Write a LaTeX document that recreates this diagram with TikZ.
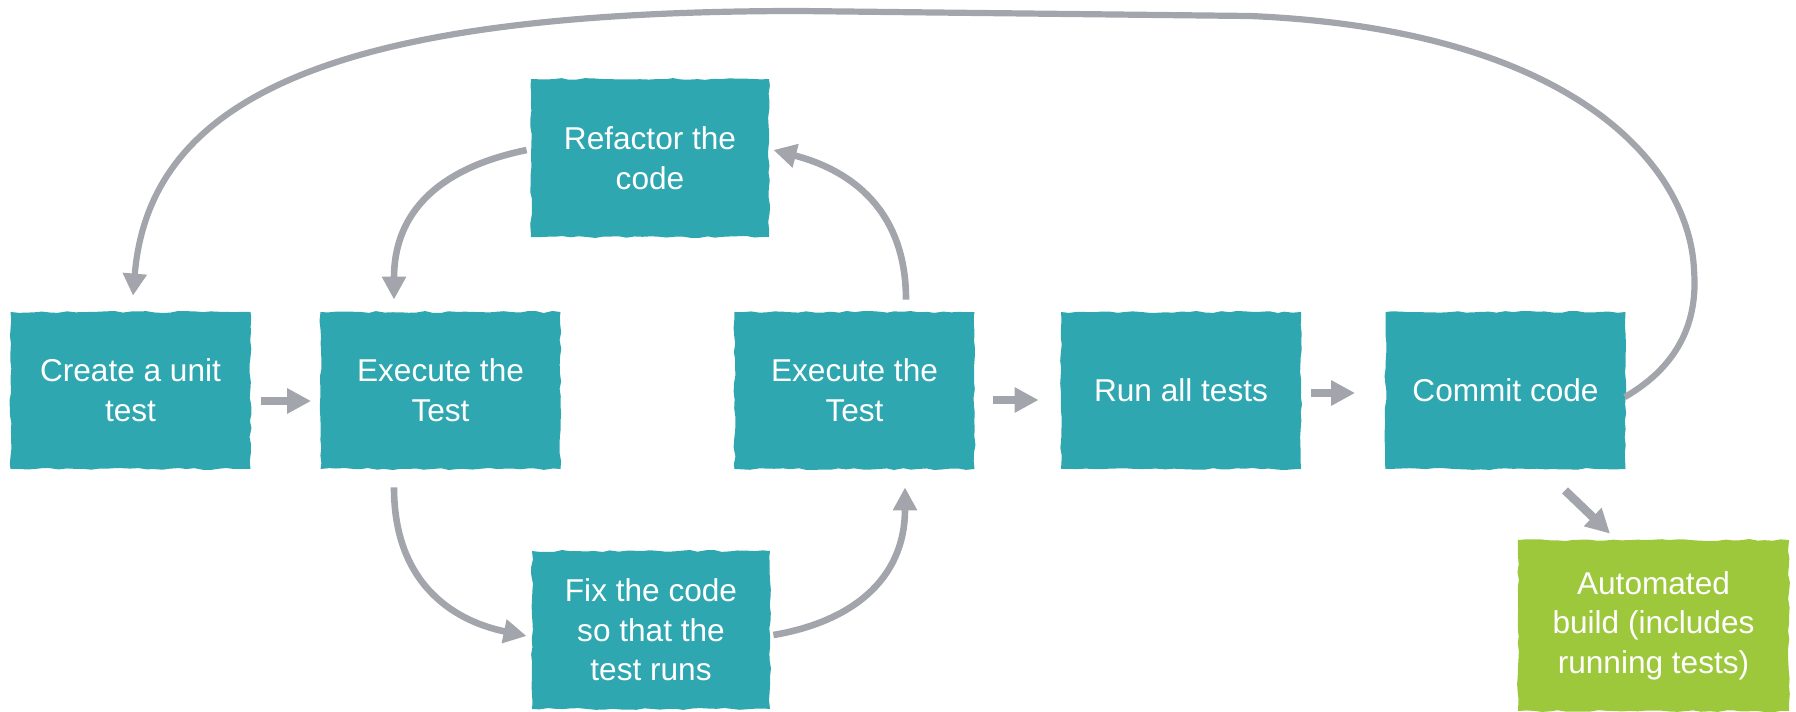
\documentclass[tikz,border=0pt]{standalone}
\usepackage{fontspec}
\setmainfont{Liberation Sans}
\usetikzlibrary{arrows.meta,decorations.pathmorphing}
\definecolor{tealbox}{HTML}{2FA7B1}
\definecolor{greenbox}{HTML}{9DC83C}
\definecolor{arrowgray}{HTML}{A2A5AB}
\pgfmathsetseed{7}
\tikzset{
  box/.style={fill=tealbox, text=white, align=center, inner sep=0pt,
    font=\fontsize{15.8pt}{19.8pt}\selectfont,
    decorate, decoration={random steps, segment length=4pt, amplitude=0.5pt},
    minimum width=120pt, minimum height=78.5pt},
  smallbox/.style={box, minimum width=119pt, minimum height=79pt},
  greenbox/.style={box, fill=greenbox, minimum width=135.5pt, minimum height=85.5pt},
  blk/.style={draw=arrowgray, line width=4.25pt, -{Triangle[width=12pt,length=12pt]}},
  curve/.style={draw=arrowgray, line width=3.3pt, -{Triangle[width=11.5pt,length=11.5pt]}},
  loop/.style={draw=arrowgray, line width=3.1pt, -{Triangle[width=11.5pt,length=11pt]}}
}
\begin{document}
\begin{tikzpicture}[x=0.5pt,y=-0.5pt]
\useasboundingbox (0,0) rectangle (1796,712);
\node[box] (A) at (130.5,390.5) {Create a unit\\test};
\node[box] (B) at (440.5,390.5) {Execute the\\Test};
\node[smallbox] (C) at (650,158) {Refactor the\\code};
\node[smallbox] (D) at (651,630) {Fix the code\\so that the\\test runs};
\node[box] (E) at (854.5,390.5) {Execute the\\Test};
\node[box] (F) at (1181,390.5) {Run all tests};
\node[box] (G) at (1505.5,390.5) {Commit code};
\node[greenbox] (H) at (1653.5,625.5) {Automated\\build (includes\\running tests)};
% block arrows
\draw[blk] ([shift={(10,10.5)}]A.east) -- ([shift={(-9,10.5)}]B.west);
\draw[blk] ([shift={(18,9.5)}]E.east) -- ([shift={(-22,9.5)}]F.west);
\draw[blk] ([shift={(10,2.5)}]F.east) -- ([shift={(-30,2.5)}]G.west);
\draw[blk] ([shift={(59.5,21)}]G.south) -- ([shift={(-43.5,-6)}]H.north);
% inner cycle
\draw[curve] ([shift={(-4,-8)}]C.west) .. controls +(-97,20) and +(0,-80) .. ([shift={(-46.5,-12)}]B.north);
\draw[curve] ([shift={(-46.5,18)}]B.south) .. controls +(0,93) and +(-77,-16) .. ([shift={(-5,6)}]D.west);
\draw[curve] ([shift={(3,5)}]D.east) .. controls +(77,-13) and +(0,93) .. ([shift={(50.5,18)}]E.south);
\draw[curve] ([shift={(51.5,-12)}]E.north) .. controls +(0,-90) and +(77,20) .. ([shift={(4,-8)}]C.east);
% big loop
\draw[loop] ([shift={(-1,6.5)}]G.east) .. controls (1680,365) and (1698,320) .. (1694,270)
  .. controls (1690,170) and (1580,30) .. (1250,16) -- (800,11)
  .. controls (350,11) and (150,90) .. ([shift={(2.5,-16)}]A.north);
\end{tikzpicture}
\end{document}
